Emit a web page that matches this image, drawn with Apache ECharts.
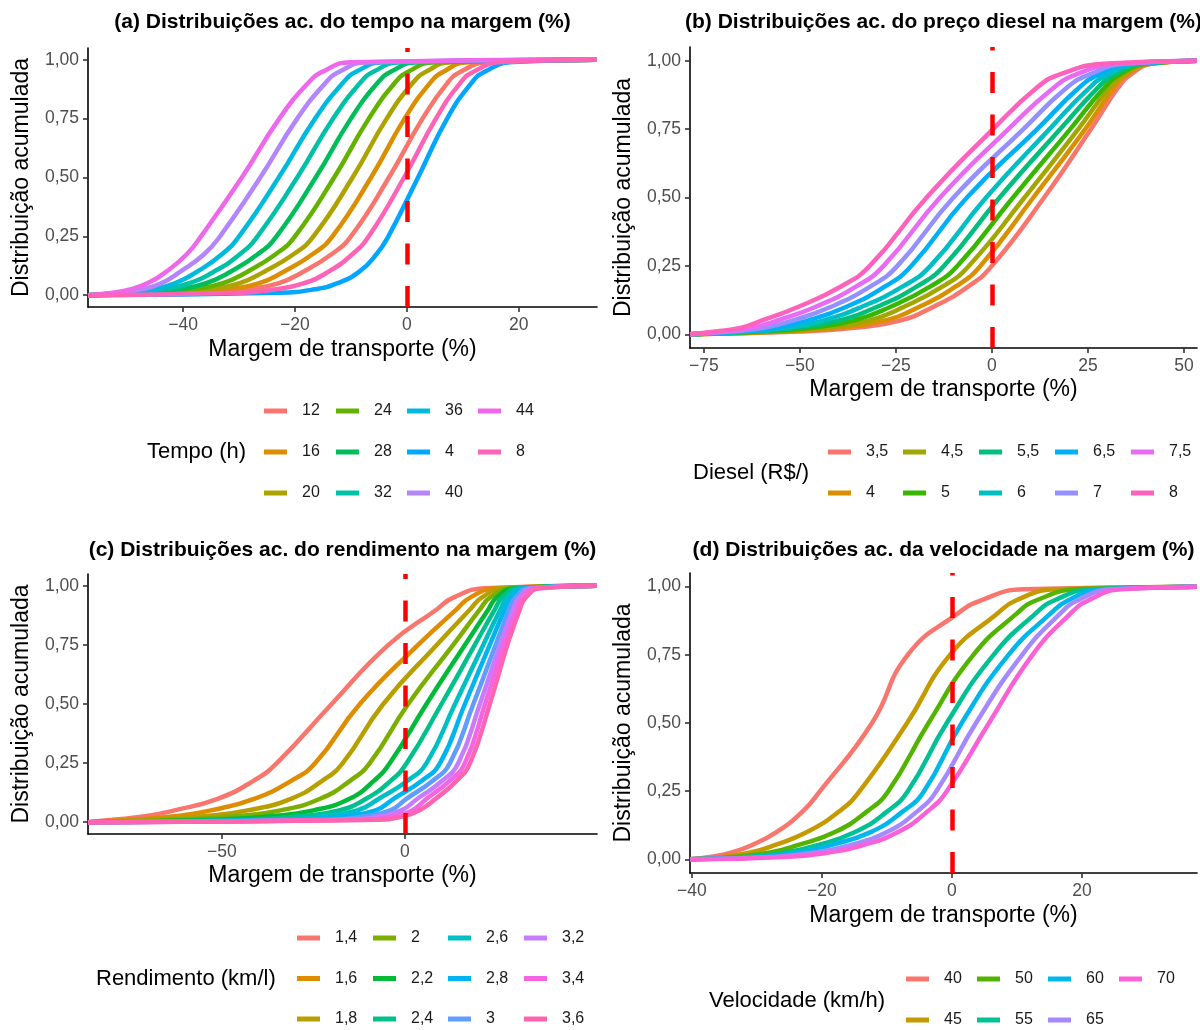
<!DOCTYPE html>
<html>
<head>
<meta charset="utf-8">
<script src="https://cdn.jsdelivr.net/npm/echarts@6/dist/echarts.min.js"></script>
<style>
html,body{margin:0;padding:0;background:#fff;}
#chart{width:1200px;height:1030px;}
</style>
</head>
<body>
<div id="chart"></div>
<script>
// Cumulative probability levels at which each curve's x (margin %) was read
const levels = [0.01, 0.025, 0.05, 0.1, 0.175, 0.25, 0.5, 0.75, 0.9, 0.95, 0.99];

// (a) Tempo (h)
const tempoNames = ['12','16','20','24','28','32','36','4','40','44','8'];
const tempoColors = ['#F8766D','#DB8E00','#AEA200','#64B200','#00BD5C','#00C1A7','#00BADE','#00A6FF','#B385FF','#EF67EB','#FF63B6'];
const tempoQuantiles = [
  [-37, -28.5, -23, -18.5, -13.4, -10, -3.2, 2.8, 7.2, 9.7, 14.5],
  [-40, -32, -26.5, -22, -16.8, -13.3, -6.4, -0.4, 4.1, 6.6, 11],
  [-43, -35.5, -30, -25.5, -20.2, -16.7, -9.7, -3.6, 1, 3.5, 8],
  [-46, -38.5, -33, -28.5, -23.4, -20, -13, -6.8, -2.2, 0.3, 5],
  [-48, -41, -36, -31.5, -26.6, -23.3, -16.3, -10, -5.3, -2.8, 2],
  [-50, -43.5, -39, -34.5, -29.8, -26.7, -19.6, -13.2, -8.4, -5.9, -1],
  [-51, -45.5, -41.5, -37.5, -33, -30, -22.9, -16.4, -11.5, -9, -4],
  [-23, -16.5, -12.5, -8.5, -5.4, -3.3, 2, 7.2, 11.5, 14, 19],
  [-52, -47.5, -44, -40.5, -36.2, -33.4, -26.2, -19.6, -14.6, -12, -7],
  [-53, -49.5, -46.5, -43, -39.3, -36.8, -29.5, -22.8, -17.7, -15, -10],
  [-31, -23.5, -18.5, -14, -9.7, -6.8, -0.5, 5.2, 9.5, 12, 17]
];

// (b) Diesel (R$/)
const dieselNames = ['3,5','4','4,5','5','5,5','6','6,5','7','7,5','8'];
const dieselColors = ['#F8766D','#D89000','#A3A500','#39B600','#00BF7D','#00BFC4','#00B0F6','#9590FF','#E76BF3','#FF62BC'];
const dieselQuantiles = [
  [-50, -35, -24, -15.3, -6.1, 0, 13.6, 25.8, 32.8, 36.2, 42],
  [-54, -39, -28, -19, -9.4, -3, 10.8, 24.3, 31.7, 35.2, 41.5],
  [-57, -43, -32, -23, -12.8, -6, 8.5, 22.5, 30.5, 34.4, 41],
  [-60, -46.5, -36, -26.5, -16, -9, 5.5, 20.4, 29.2, 33.4, 40.5],
  [-62, -50, -40, -30, -19.5, -12.5, 2, 17.8, 27.5, 32, 39.5],
  [-64, -53, -44, -34, -23.2, -16, -1.5, 15, 25.3, 30.3, 38.5],
  [-66, -56, -48, -38, -27.8, -21, -6.5, 11.8, 22.6, 28, 37],
  [-68, -59, -52, -42, -31.6, -24.6, -10, 8.2, 19.4, 25.5, 35],
  [-70, -62, -56, -46, -35.3, -28.2, -13.5, 4.3, 16, 22, 33],
  [-72, -65, -60, -50.5, -39.3, -31.8, -17, 0.3, 11.6, 17.7, 30]
];

// (c) Rendimento (km/l)
const rendNames = ['1,4','1,6','1,8','2','2,2','2,4','2,6','2,8','3','3,2','3,4','3,6'];
const rendColors = ['#F8766D','#DE8C00','#B79F00','#7CAE00','#00BA38','#00C08B','#00BFC4','#00B4F0','#619CFF','#C77CFF','#F564E3','#FF64B0'];
const rendQuantiles = [
  [-80, -71, -63, -51, -41.4, -35, -20, -4.5, 8.7, 13.2, 22],
  [-75, -63, -53, -41, -31.1, -24.5, -12.3, 3.6, 14.1, 17.8, 25],
  [-70, -55, -43, -31, -22.6, -17, -5.9, 8.7, 17.8, 21, 27],
  [-62, -46.5, -34, -23, -15, -9.6, 0.9, 13.2, 20.5, 23.2, 29],
  [-52, -37, -25, -15, -8.5, -4.1, 5.9, 16.4, 22.8, 25, 30],
  [-43, -29, -18, -10.5, -3.9, 0.5, 10, 19.1, 24.6, 26.6, 31],
  [-35, -23, -13, -7, 0.7, 5.9, 13.7, 21.4, 26.1, 28, 32],
  [-28, -17, -8, -3, 4.6, 9.6, 16.4, 23.2, 27.3, 29.1, 33],
  [-20, -11, -4, 0.5, 7.6, 12.3, 18.7, 24.8, 28.5, 30.2, 34],
  [-15, -7, -1, 3.5, 10.2, 14.6, 20.5, 26, 29.6, 31.2, 35],
  [-10, -3, 2, 6, 12.2, 16.4, 21.9, 27, 30.5, 32.1, 36],
  [-7, -0.5, 4, 8.5, 14.1, 17.8, 23.2, 28, 31.4, 33, 37]
];

// (d) Velocidade (km/h)
const velNames = ['40','45','50','55','60','65','70'];
const velColors = ['#F8766D','#C49A00','#53B400','#00C094','#00B6EB','#A58AFF','#FB61D7'];
const velQuantiles = [
  [-37, -34, -31, -27, -23, -20.3, -12.3, -6.8, 0.8, 4.5, 11],
  [-35, -31, -27.5, -22.3, -17.4, -14.2, -6.9, -0.3, 6.9, 9.9, 16],
  [-33, -28, -24, -18, -13.1, -9.8, -3.6, 3.3, 9.9, 13, 19.5],
  [-31, -25.5, -21, -14.9, -10, -6.8, -0.8, 6.4, 12.8, 15.8, 21.5],
  [-29.5, -23.5, -19, -12.5, -7.6, -4.3, 1.5, 8.7, 15.1, 17.9, 23],
  [-27, -21, -16, -10, -5.4, -2.4, 3.7, 10.8, 16.6, 19.4, 24.5],
  [-25, -19, -14, -8.3, -3.8, -0.8, 5.7, 12.4, 18.2, 21, 26]
];

// axis ranges and tick labels
const xRanges = [[-57, 34], [-78.6, 53.4], [-86.6, 52.5], [-40.3, 37.7]];
const yRange = [-0.05, 1.05];
const xTicks = [[-40, -20, 0, 20], [-75, -50, -25, 0, 25, 50], [-50, 0], [-40, -20, 0, 20]];
const yTicks = [0, 0.25, 0.5, 0.75, 1];
const vlineX = 0;

const titles = [
  '(a) Distribuições ac. do tempo na margem (%)',
  '(b) Distribuições ac. do preço diesel na margem (%)',
  '(c) Distribuições ac. do rendimento na margem (%)',
  '(d) Distribuições ac. da velocidade na margem (%)'
];
const legendTitles = ['Tempo (h)', 'Diesel (R$/)', 'Rendimento (km/l)', 'Velocidade (km/h)'];
const xTitle = 'Margem de transporte (%)';
const yTitle = 'Distribuição acumulada';

const FONT = '"Liberation Sans", Arial, Helvetica, sans-serif';

const panels = [
  {id:'a', names: tempoNames, colors: tempoColors, q: tempoQuantiles,
   grid:{left:88, top:48, width:509, height:259}, nameGap:31,
   legend:{rows:3, cols:[264,336,407,478], top:411, pitch:41, titleX:147, titleY:452}},
  {id:'b', names: dieselNames, colors: dieselColors, q: dieselQuantiles,
   grid:{left:690, top:47, width:507, height:301}, nameGap:30,
   legend:{rows:2, cols:[828,903,979,1055,1131], top:452, pitch:41, titleX:693, titleY:473}},
  {id:'c', names: rendNames, colors: rendColors, q: rendQuantiles,
   grid:{left:88, top:574, width:509, height:260}, nameGap:30,
   legend:{rows:3, cols:[297,373,448,524], top:938, pitch:40.5, titleX:96, titleY:979}},
  {id:'d', names: velNames, colors: velColors, q: velQuantiles,
   grid:{left:690, top:573, width:507, height:300}, nameGap:31,
   legend:{rows:2, cols:[906,977,1048,1119], top:979, pitch:41, titleX:709, titleY:1001}}
];

const fmtNum = v => String(v).replace('-', '\u2212');
const fmtY = v => v.toFixed(2).replace('.', ',');

const grid = [], xAxis = [], yAxis = [], series = [], legend = [], graphic = [];

panels.forEach((p, k) => {
  grid.push(Object.assign({containLabel:false}, p.grid));
  const xr = xRanges[k];
  xAxis.push({
    type:'value', gridIndex:k, min:xr[0], max:xr[1],
    name: xTitle, nameLocation:'middle', nameGap:p.nameGap,
    nameTextStyle:{fontFamily:FONT, fontSize:23, color:'#000'},
    axisLine:{show:true, onZero:false, lineStyle:{color:'#000', width:1.6}},
    axisTick:{show:true, length:5, lineStyle:{color:'#333', width:1.6}, customValues:xTicks[k]},
    axisLabel:{show:true, margin:9, fontFamily:FONT, fontSize:17.5, color:'#4D4D4D', customValues:xTicks[k], formatter: fmtNum},
    splitLine:{show:false}
  });
  yAxis.push({
    type:'value', gridIndex:k, min:yRange[0], max:yRange[1],
    name: yTitle, nameLocation:'middle', nameGap:55, nameRotate:90,
    nameTextStyle:{fontFamily:FONT, fontSize:23, color:'#000'},
    axisLine:{show:true, onZero:false, lineStyle:{color:'#000', width:1.6}},
    axisTick:{show:true, length:5, lineStyle:{color:'#333', width:1.6}, customValues:yTicks},
    axisLabel:{show:true, margin:9, fontFamily:FONT, fontSize:17.5, color:'#4D4D4D', customValues:yTicks, formatter: fmtY},
    splitLine:{show:false}
  });
  p.names.forEach((n, i) => {
    const data = [[xr[0], 0]];
    levels.forEach((l, j) => data.push([p.q[i][j], l]));
    data.push([xr[1], 1]);
    series.push({
      type:'line', name: p.id + ':' + n, xAxisIndex:k, yAxisIndex:k,
      data, showSymbol:false, symbol:'none', smooth:0.5,
      lineStyle:{color:p.colors[i], width:4.5, cap:'butt'}, itemStyle:{color:p.colors[i]},
      silent:true, z:2
    });
  });
  series.push({
    type:'line', name: p.id + ':vline', xAxisIndex:k, yAxisIndex:k, data:[], z:5, silent:true,
    markLine:{silent:true, symbol:['none','none'], label:{show:false},
      lineStyle:{color:'#FF0000', width:4.5, type:[21,21.5], cap:'butt'},
      emphasis:{disabled:true},
      data:[{xAxis: vlineX}]}
  });
  const L = p.legend;
  const rowH = 20;
  for (let c = 0; c < L.cols.length; c++) {
    const chunk = p.names.slice(c * L.rows, (c + 1) * L.rows);
    if (!chunk.length) continue;
    legend.push({
      orient:'vertical', left:L.cols[c], top:L.top - rowH / 2, itemGap:L.pitch - rowH,
      icon:'rect', itemWidth:23, itemHeight:5, selectedMode:false, padding:0,
      data: chunk.map(n => p.id + ':' + n),
      formatter: name => name.split(':')[1],
      textStyle:{fontFamily:FONT, fontSize:16, color:'#1A1A1A', lineHeight:rowH, padding:[0,0,0,10]}
    });
  }
  graphic.push({
    type:'text', x:L.titleX, y:L.titleY,
    style:{text:legendTitles[k], font:'22px ' + FONT, fill:'#000', textAlign:'left', textVerticalAlign:'middle'}
  });
  graphic.push({
    type:'text', x:p.grid.left + p.grid.width / 2, y: k < 2 ? 22 : 550,
    style:{text:titles[k], font:'bold 21px ' + FONT, fill:'#000', textAlign:'center', textVerticalAlign:'middle'}
  });
});

const chart = echarts.init(document.getElementById('chart'), null, {renderer:'canvas'});
chart.setOption({
  animation:false,
  backgroundColor:'#fff',
  grid, xAxis, yAxis, series, legend, graphic
});
</script>
</body>
</html>
